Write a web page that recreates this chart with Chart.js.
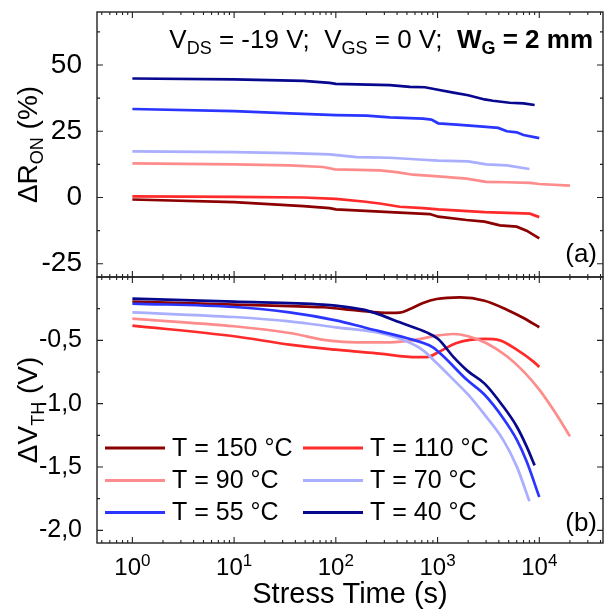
<!DOCTYPE html>
<html>
<head>
<meta charset="utf-8">
<script src="https://cdn.jsdelivr.net/npm/chart.js@4.4.0/dist/chart.umd.min.js"></script>
<style>
  html, body { margin: 0; padding: 0; background: #fff; }
  #wrap { position: relative; width: 614px; height: 609px; }
  canvas { position: absolute; left: 0; top: 0; }
</style>
</head>
<body>
<div id="wrap">
  <canvas id="ronChart" width="614" height="609"></canvas>
  <canvas id="vthChart" width="614" height="609"></canvas>
</div>
<script>
const seriesLabels = ['T = 150 °C', 'T = 110 °C', 'T = 90 °C', 'T = 70 °C', 'T = 55 °C', 'T = 40 °C'];
const seriesColors = ['#8b0000', '#ff2a2a', '#ff8c8c', '#a9aeff', '#2a36ff', '#08088f'];

// stress time (s) / delta R_on (%)
const ronTime150 = [1, 10, 48, 87, 100, 340, 840, 1015, 1930, 2900, 4100, 6000, 7500, 10000];
const ronVal150 = [-0.75, -1.75, -3.25, -4.0, -4.5, -5.5, -6.25, -7.25, -8.5, -9.1, -10.5, -11.0, -12.5, -15.4];
const ronTime110 = [1, 10, 48, 100, 186, 270, 425, 720, 1015, 2900, 7000, 8100, 10000];
const ronVal110 = [0.4, 0.25, 0, -0.5, -1.5, -2.25, -3.5, -4.0, -4.5, -5.5, -6.0, -6.1, -7.4];
const ronTime90 = [1, 10, 35, 75, 98, 270, 395, 575, 1015, 1930, 3000, 4800, 8100, 10000, 20000];
const ronVal90 = [12.9, 12.5, 12.1, 11.5, 10.6, 10.25, 9.6, 8.6, 8.0, 7.1, 5.9, 5.75, 5.5, 5.1, 4.5];
const ronTime70 = [1, 10, 35, 87, 160, 340, 720, 1015, 2000, 3000, 4800, 8000];
const ronVal70 = [17.4, 17.1, 16.75, 16.25, 15.25, 15.0, 14.25, 13.9, 13.6, 12.5, 12.1, 10.75];
const ronTime55 = [1, 10, 35, 100, 200, 340, 720, 870, 1015, 1540, 2800, 3950, 4800, 6000, 7000, 10000];
const ronVal55 = [33.4, 32.6, 31.75, 31.1, 30.9, 30.25, 29.75, 29.4, 28.0, 27.5, 26.75, 26.25, 25.0, 24.6, 23.6, 22.4];
const ronTime40 = [1, 10, 48, 87, 100, 340, 535, 750, 980, 1430, 2000, 2900, 3500, 5100, 7000, 9000];
const ronVal40 = [44.9, 44.6, 44.0, 43.25, 42.9, 42.4, 41.75, 41.6, 40.75, 39.6, 38.6, 37.0, 36.5, 35.75, 35.5, 34.9];

// stress time (s) / delta V_th (V)
const vthTime150 = [1, 10, 75, 160, 340, 425, 535, 720, 980, 1660, 2900, 4800, 7000, 10000];
const vthVal150 = [-0.195, -0.218, -0.239, -0.263, -0.284, -0.282, -0.253, -0.205, -0.174, -0.161, -0.187, -0.258, -0.324, -0.397];
const vthTime110 = [1, 10, 35, 100, 270, 620, 780, 1055, 1540, 2900, 4100, 6000, 8700, 10000];
const vthVal110 = [-0.384, -0.468, -0.534, -0.574, -0.605, -0.632, -0.632, -0.587, -0.521, -0.489, -0.5, -0.574, -0.666, -0.71];
const vthTime90 = [1, 10, 35, 87, 160, 340, 620, 980, 1430, 2000, 3000, 4800, 7000, 10000, 14800, 20000];
const vthVal90 = [-0.329, -0.389, -0.442, -0.503, -0.516, -0.516, -0.495, -0.463, -0.45, -0.468, -0.521, -0.626, -0.745, -0.889, -1.087, -1.258];
const vthTime70 = [1, 10, 35, 100, 270, 495, 720, 980, 1430, 2000, 2900, 4400, 6000, 8000];
const vthVal70 = [-0.279, -0.316, -0.35, -0.397, -0.442, -0.508, -0.579, -0.679, -0.81, -0.929, -1.087, -1.284, -1.495, -1.771];
const vthTime55 = [1, 10, 35, 100, 200, 495, 900, 1140, 1930, 2900, 4400, 6000, 7500, 10000];
const vthVal55 = [-0.21, -0.237, -0.279, -0.342, -0.403, -0.482, -0.555, -0.626, -0.81, -0.93, -1.113, -1.284, -1.455, -1.737];
const vthTime40 = [1, 10, 75, 100, 186, 270, 425, 780, 1015, 1430, 2000, 2900, 4400, 6000, 7500, 9000];
const vthVal40 = [-0.171, -0.195, -0.218, -0.226, -0.258, -0.297, -0.358, -0.437, -0.49, -0.63, -0.745, -0.842, -1.02, -1.18, -1.337, -1.487];

const xTicks = [1, 10, 100, 1000, 10000];
const ronTicks = [-25, 0, 25, 50];
const vthTicks = [-2.0, -1.5, -1.0, -0.5];

const FONT = '"Liberation Sans", Arial, sans-serif';
const W = 614, H = 609;
const PLOT_LEFT = 97, PLOT_RIGHT = 603;
const SPLIT_Y = 277, TOP_Y = 12, BOTTOM_Y = 543;

const zip = (xs, ys) => xs.map((x, i) => ({ x: x, y: ys[i] }));

// draws a run of text pieces (sub/superscripts, bold) starting at x
function richText(ctx, parts, x, y, align) {
    let total = 0;
    parts.forEach(p => {
        ctx.font = `${p.bold ? 'bold ' : ''}${p.size}px ${FONT}`;
        p.w = ctx.measureText(p.t).width;
        total += p.w;
    });
    let cx = align === 'right' ? x - total : align === 'center' ? x - total / 2 : x;
    ctx.textAlign = 'left';
    ctx.textBaseline = 'alphabetic';
    parts.forEach(p => {
        ctx.font = `${p.bold ? 'bold ' : ''}${p.size}px ${FONT}`;
        ctx.fillText(p.t, cx, y + (p.dy || 0));
        cx += p.w;
    });
}

function minorLogValues(min, max) {
    const out = [];
    for (let d = -1; d <= 5; d++) {
        for (let k = 2; k <= 9; k++) {
            const v = k * Math.pow(10, d);
            if (v > min && v < max) out.push(v);
        }
    }
    return out;
}

function panelPlugin(cfg) {
    return {
        id: 'panel',
        afterDatasetsDraw(chart) {
            const ctx = chart.ctx;
            const a = chart.chartArea;
            const xs = chart.scales.x;
            const ys = chart.scales.y;
            ctx.save();
            ctx.strokeStyle = '#222';
            ctx.lineWidth = 1.4;
            ctx.strokeRect(a.left, a.top, a.right - a.left, a.bottom - a.top);

            // inward tick marks on all four sides
            ctx.lineWidth = 1.1;
            ctx.beginPath();
            const xMark = (v, len) => {
                const px = xs.getPixelForValue(v);
                ctx.moveTo(px, a.top); ctx.lineTo(px, a.top + len);
                ctx.moveTo(px, a.bottom); ctx.lineTo(px, a.bottom - len);
            };
            xTicks.forEach(v => xMark(v, 6));
            minorLogValues(xs.min, xs.max).forEach(v => xMark(v, 3));
            const yMark = (v, len) => {
                const py = ys.getPixelForValue(v);
                ctx.moveTo(a.left, py); ctx.lineTo(a.left + len, py);
                ctx.moveTo(a.right, py); ctx.lineTo(a.right - len, py);
            };
            cfg.yTicks.forEach(v => yMark(v, 6));
            const step = cfg.yTicks[1] - cfg.yTicks[0];
            for (let v = cfg.yTicks[0] - step * 2; v <= ys.max; v += step / 2) {
                if (v > ys.min && v < ys.max) yMark(v, 3);
            }
            ctx.stroke();

            ctx.fillStyle = '#000';
            // rotated y axis title
            ctx.save();
            ctx.translate(37, (a.top + a.bottom) / 2);
            ctx.rotate(-Math.PI / 2);
            richText(ctx, cfg.yTitle, 0, 0, 'center');
            ctx.restore();

            // panel letter
            ctx.font = `26px ${FONT}`;
            ctx.textAlign = 'right';
            ctx.textBaseline = 'alphabetic';
            ctx.fillText(cfg.letter, 597, cfg.letterY);

            if (cfg.note) richText(ctx, cfg.note, 593, 48, 'right');

            if (cfg.showX) {
                xTicks.forEach(v => {
                    const px = xs.getPixelForValue(v);
                    const exp = String(Math.round(Math.log10(v)));
                    richText(ctx, [
                        { t: '10', size: 24 },
                        { t: exp, size: 17, dy: -9 }
                    ], px, 575, 'center');
                });
                richText(ctx, [{ t: 'Stress Time (s)', size: 29 }], (a.left + a.right) / 2, 603, 'center');
            }

            if (cfg.legend) {
                const colX = [105, 303];
                const rowY = [448, 480.5, 512.5];
                chart.data.datasets.forEach((ds, i) => {
                    const x0 = colX[i % 2];
                    const y0 = rowY[Math.floor(i / 2)];
                    ctx.strokeStyle = ds.borderColor;
                    ctx.lineWidth = 3;
                    ctx.beginPath();
                    ctx.moveTo(x0, y0); ctx.lineTo(x0 + 60, y0);
                    ctx.stroke();
                    ctx.fillStyle = '#000';
                    ctx.font = `25px ${FONT}`;
                    ctx.textAlign = 'left';
                    ctx.textBaseline = 'middle';
                    ctx.fillText(ds.label, x0 + 67, y0 + 1);
                });
            }
            ctx.restore();
        }
    };
}

function buildChart(id, times, values, opts) {
    const datasets = seriesLabels.map((label, i) => ({
        label: label,
        data: zip(times[i], values[i]),
        borderColor: seriesColors[i],
        backgroundColor: seriesColors[i],
        borderWidth: 2.7,
        pointRadius: 0,
        tension: 0,
        cubicInterpolationMode: opts.smooth ? 'monotone' : 'default',
        order: seriesLabels.length - i
    }));
    return new Chart(document.getElementById(id), {
        type: 'line',
        data: { datasets: datasets },
        options: {
            responsive: false,
            animation: false,
            devicePixelRatio: 1,
            layout: { padding: { top: opts.top, right: W - PLOT_RIGHT, left: 0, bottom: 0 } },
            plugins: { legend: { display: false }, tooltip: { enabled: false } },
            scales: {
                x: {
                    type: 'logarithmic',
                    min: 0.449,
                    max: 42300,
                    grid: { display: false },
                    border: { display: false },
                    ticks: { display: false },
                    afterBuildTicks: s => { s.ticks = xTicks.map(v => ({ value: v })); },
                    afterFit: s => { s.height = H - opts.bottom; s.paddingLeft = 0; s.paddingRight = 0; }
                },
                y: {
                    type: 'linear',
                    min: opts.yMin,
                    max: opts.yMax,
                    grid: { display: false },
                    border: { display: false },
                    ticks: {
                        color: '#000',
                        padding: 7,
                        font: { family: FONT, size: opts.tickSize },
                        callback: opts.fmt
                    },
                    afterBuildTicks: s => { s.ticks = opts.yTicks.map(v => ({ value: v })); },
                    afterFit: s => { s.width = PLOT_LEFT; s.paddingTop = 0; s.paddingBottom = 0; }
                }
            }
        },
        plugins: [panelPlugin(opts)]
    });
}

buildChart('ronChart',
    [ronTime150, ronTime110, ronTime90, ronTime70, ronTime55, ronTime40],
    [ronVal150, ronVal110, ronVal90, ronVal70, ronVal55, ronVal40],
    {
        top: TOP_Y, bottom: SPLIT_Y, yMin: -30, yMax: 70, yTicks: ronTicks, tickSize: 28,
        fmt: v => String(v),
        smooth: false,
        letter: '(a)', letterY: 262,
        yTitle: [{ t: 'ΔR', size: 28 }, { t: 'ON', size: 18, dy: 6 }, { t: ' (%)', size: 28 }],
        note: [
            { t: 'V', size: 26 }, { t: 'DS', size: 18, dy: 6 }, { t: ' = -19 V;  ', size: 26 },
            { t: 'V', size: 26 }, { t: 'GS', size: 18, dy: 6 }, { t: ' = 0 V;  ', size: 26 },
            { t: 'W', size: 26, bold: true }, { t: 'G', size: 18, dy: 6, bold: true },
            { t: ' = 2 mm', size: 26, bold: true }
        ]
    });

buildChart('vthChart',
    [vthTime150, vthTime110, vthTime90, vthTime70, vthTime55, vthTime40],
    [vthVal150, vthVal110, vthVal90, vthVal70, vthVal55, vthVal40],
    {
        top: SPLIT_Y, bottom: BOTTOM_Y, yMin: -2.1, yMax: 0, yTicks: vthTicks, tickSize: 25,
        fmt: v => v.toFixed(1).replace('.', ','),
        smooth: true,
        letter: '(b)', letterY: 531,
        yTitle: [{ t: 'ΔV', size: 28 }, { t: 'TH', size: 18, dy: 7 }, { t: ' (V)', size: 28 }],
        showX: true,
        legend: true
    });
</script>
</body>
</html>
